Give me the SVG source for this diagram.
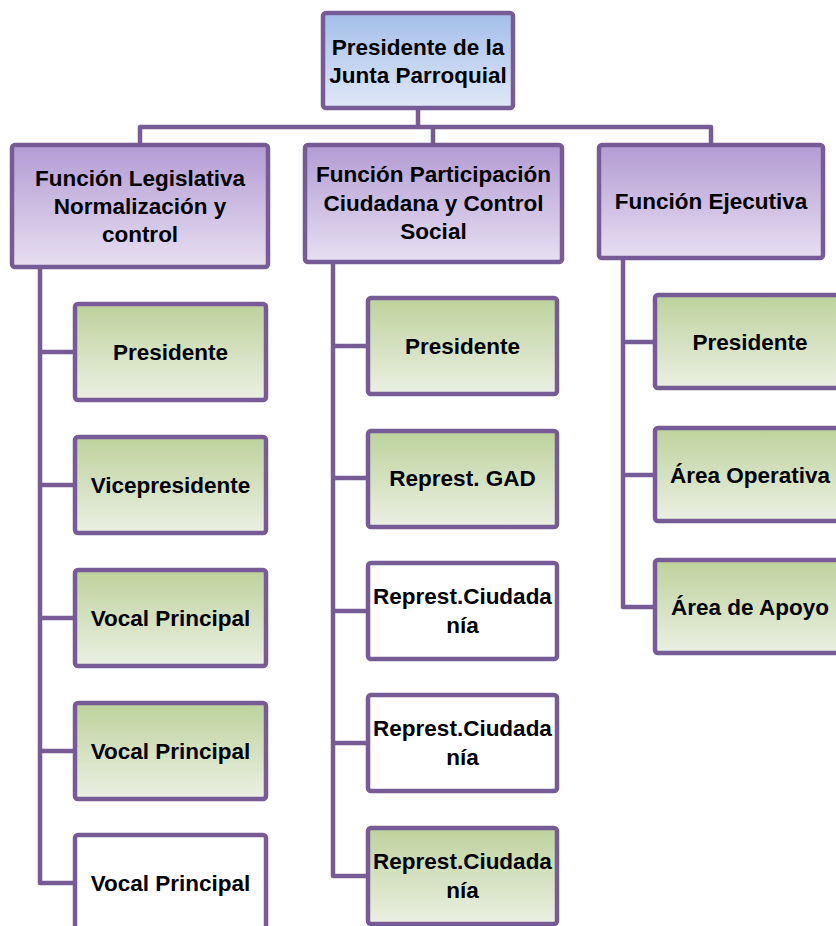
<svg xmlns="http://www.w3.org/2000/svg" width="836" height="926" viewBox="0 0 836 926">
<defs>
<linearGradient id="gBlue" x1="0" y1="0" x2="0" y2="1"><stop offset="0" stop-color="#a3bee9"/><stop offset="1" stop-color="#e0e8f7"/></linearGradient>
<linearGradient id="gPurple" x1="0" y1="0" x2="0" y2="1"><stop offset="0" stop-color="#b39bd3"/><stop offset="1" stop-color="#e7dff1"/></linearGradient>
<linearGradient id="gGreen" x1="0" y1="0" x2="0" y2="1"><stop offset="0" stop-color="#bdd29c"/><stop offset="1" stop-color="#ebf0e3"/></linearGradient>
<style>
.box{stroke:#775b97;stroke-width:4.5;}
.blue{fill:url(#gBlue);}
.purple{fill:url(#gPurple);}
.green{fill:url(#gGreen);}
.white{fill:#ffffff;}
.conn{fill:none;stroke:#775b97;stroke-width:4.5;stroke-linejoin:round;}
text{font-family:"Liberation Sans",Arial,sans-serif;font-weight:bold;font-size:22.5px;fill:#000;text-anchor:middle;}
</style>
</defs>
<rect width="836" height="926" fill="#ffffff"/>
<g id="connectors">
<path class="conn" d="M418 108V127M140 145V127H711V145M433 127V145"/>
<path class="conn" d="M40 267V883H75M40 352H75M40 485H75M40 618H75M40 751H75"/>
<path class="conn" d="M333 262V876H368M333 346H368M333 478H368M333 611H368M333 743H368"/>
<path class="conn" d="M623 258V607H653M623 342H653M623 475H653"/>
</g>
<g id="n-top"><rect class="box blue" x="323" y="13" width="190" height="95" rx="3"/><text x="418" y="55">Presidente de la</text><text x="418" y="83">Junta Parroquial</text></g>
<g id="n-legislativa"><rect class="box purple" x="12" y="145" width="256" height="122" rx="3"/><text x="140" y="186">Función Legislativa</text><text x="140" y="214">Normalización y</text><text x="140" y="242">control</text></g>
<g id="n-participacion"><rect class="box purple" x="305" y="145" width="257" height="117" rx="3"/><text x="433.5" y="182">Función Participación</text><text x="433.5" y="210.5">Ciudadana y Control</text><text x="433.5" y="239">Social</text></g>
<g id="n-ejecutiva"><rect class="box purple" x="599" y="145" width="224" height="113" rx="3"/><text x="711" y="209">Función Ejecutiva</text></g>
<g id="n-l1"><rect class="box green" x="75" y="304" width="191" height="96" rx="3"/><text x="170.5" y="360">Presidente</text></g>
<g id="n-l2"><rect class="box green" x="75" y="437" width="191" height="96" rx="3"/><text x="170.5" y="493">Vicepresidente</text></g>
<g id="n-l3"><rect class="box green" x="75" y="570" width="191" height="96" rx="3"/><text x="170.5" y="626">Vocal Principal</text></g>
<g id="n-l4"><rect class="box green" x="75" y="703" width="191" height="96" rx="3"/><text x="170.5" y="759">Vocal Principal</text></g>
<g id="n-l5"><rect class="box white" x="75" y="835" width="191" height="96" rx="3"/><text x="170.5" y="891">Vocal Principal</text></g>
<g id="n-m1"><rect class="box green" x="368" y="298" width="189" height="96" rx="3"/><text x="462.5" y="354">Presidente</text></g>
<g id="n-m2"><rect class="box green" x="368" y="431" width="189" height="96" rx="3"/><text x="462.5" y="486">Represt. GAD</text></g>
<g id="n-m3"><rect class="box white" x="368" y="563" width="189" height="96" rx="3"/><text x="462.5" y="604">Represt.Ciudada</text><text x="462.5" y="633">nía</text></g>
<g id="n-m4"><rect class="box white" x="368" y="695" width="189" height="96" rx="3"/><text x="462.5" y="736">Represt.Ciudada</text><text x="462.5" y="765">nía</text></g>
<g id="n-m5"><rect class="box green" x="368" y="828" width="189" height="96" rx="3"/><text x="462.5" y="869">Represt.Ciudada</text><text x="462.5" y="898">nía</text></g>
<g id="n-r1"><rect class="box green" x="655" y="295" width="192" height="93" rx="3"/><text x="750" y="350">Presidente</text></g>
<g id="n-r2"><rect class="box green" x="655" y="428" width="192" height="93" rx="3"/><text x="750" y="483">Área Operativa</text></g>
<g id="n-r3"><rect class="box green" x="655" y="560" width="192" height="93" rx="3"/><text x="750" y="615">Área de Apoyo</text></g>
</svg>
